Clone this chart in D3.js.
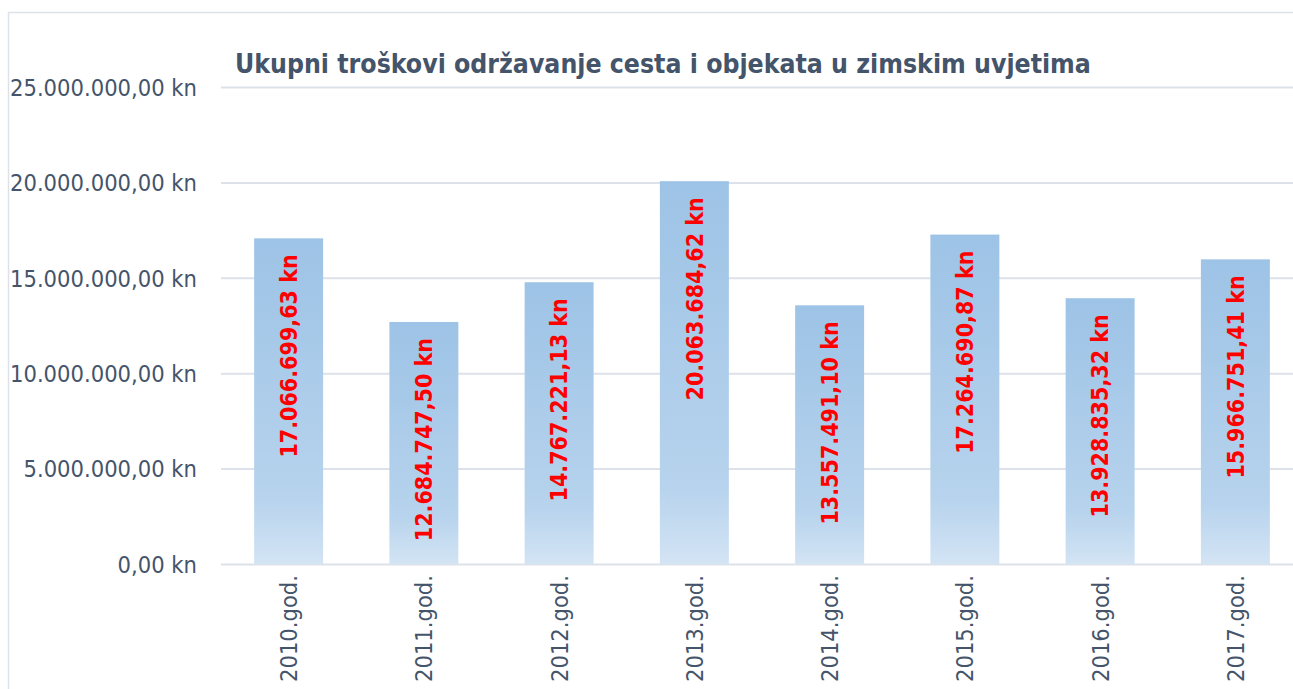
<!DOCTYPE html>
<html>
<head>
<meta charset="utf-8">
<script src="https://cdn.jsdelivr.net/npm/d3@7"></script>
<style>
  body { margin: 0; background: #fff; }
  svg { display: block; }
</style>
</head>
<body>
<svg></svg>
<script>
// chart data
var years = ["2010.god.", "2011.god.", "2012.god.", "2013.god.", "2014.god.", "2015.god.", "2016.god.", "2017.god."];
var costs = [17066699.63, 12684747.50, 14767221.13, 20063684.62, 13557491.10, 17264690.87, 13928835.32, 15966751.41];
var yTicks = [0, 5000000, 10000000, 15000000, 20000000, 25000000];
var title = "Ukupni troškovi održavanje cesta i objekata u zimskim uvjetima";

var config = { w: 1293, h: 689, left: 221, right: 1303, top: 87, bottom: 564 };
var textColor = "#44546a";
var font = "'DejaVu Sans Condensed', 'DejaVu Sans', sans-serif";

var svg = d3.select("svg").attr("width", config.w).attr("height", config.h);

// hr number format: 1.234.567,89 kn
var hr = d3.formatLocale({ decimal: ",", thousands: ".", grouping: [3], currency: ["", " kn"] });
var fmt = function(v) { return hr.format(",.2f")(v) + " kn"; };

// outer frame
svg.append("rect")
  .attr("x", 8.5).attr("y", 12.5)
  .attr("width", config.w).attr("height", config.h)
  .attr("fill", "none").attr("stroke", "#dde2ea").attr("stroke-width", 1.5);

// gradient for bars
var grad = svg.append("defs").append("linearGradient")
  .attr("id", "barGrad").attr("x1", 0).attr("y1", 0).attr("x2", 0).attr("y2", 1);
grad.append("stop").attr("offset", "0%").attr("stop-color", "#9dc3e6");
grad.append("stop").attr("offset", "80%").attr("stop-color", "#b7d3ed");
grad.append("stop").attr("offset", "100%").attr("stop-color", "#d3e4f4");

var x = d3.scaleBand().domain(years).range([config.left, config.right]).paddingInner(0.49).paddingOuter(0.245);
var y = d3.scaleLinear().domain([0, 25000000]).range([config.bottom, config.top]);

// y axis with gridlines
var yAxis = svg.append("g")
  .attr("transform", "translate(" + config.left + ",0)")
  .call(d3.axisLeft(y).tickValues(yTicks).tickSize(-(config.w - config.left)).tickFormat(fmt).tickPadding(24));
yAxis.select(".domain").remove();
yAxis.selectAll("line").attr("stroke", "#dde2ea").attr("stroke-width", 2);
yAxis.selectAll("text")
  .attr("fill", textColor).style("font-family", font).style("font-size", "23.5px")
  .attr("dy", "0.35em");

// bars
svg.append("g").selectAll("rect")
  .data(costs)
  .enter().append("rect")
    .attr("x", function(d, i) { return x(years[i]); })
    .attr("y", function(d) { return y(d); })
    .attr("width", x.bandwidth())
    .attr("height", function(d) { return y(0) - y(d); })
    .attr("fill", "url(#barGrad)");

// value labels inside end, rotated
svg.append("g").selectAll("text")
  .data(costs)
  .enter().append("text")
    .attr("transform", function(d, i) {
      return "translate(" + (x(years[i]) + x.bandwidth() / 2) + "," + (y(d) + 16) + ") rotate(-90)";
    })
    .attr("text-anchor", "end")
    .attr("dy", "0.36em")
    .attr("fill", "#ff0000")
    .style("font-family", font).style("font-size", "23px").style("font-weight", "bold")
    .text(fmt);

// x axis labels
var xAxis = svg.append("g")
  .attr("transform", "translate(0," + config.bottom + ")")
  .call(d3.axisBottom(x).tickSize(0).tickPadding(0));
xAxis.select(".domain").remove();
xAxis.selectAll("text")
  .attr("transform", "translate(0,11) rotate(-90)")
  .attr("text-anchor", "end")
  .attr("x", 0).attr("y", 0).attr("dy", "0.36em")
  .attr("fill", textColor).style("font-family", font).style("font-size", "23.5px");

// title
svg.append("text")
  .attr("x", 235).attr("y", 73)
  .attr("fill", textColor)
  .style("font-family", font).style("font-size", "26.4px").style("font-weight", "bold")
  .text(title);
</script>
</body>
</html>
